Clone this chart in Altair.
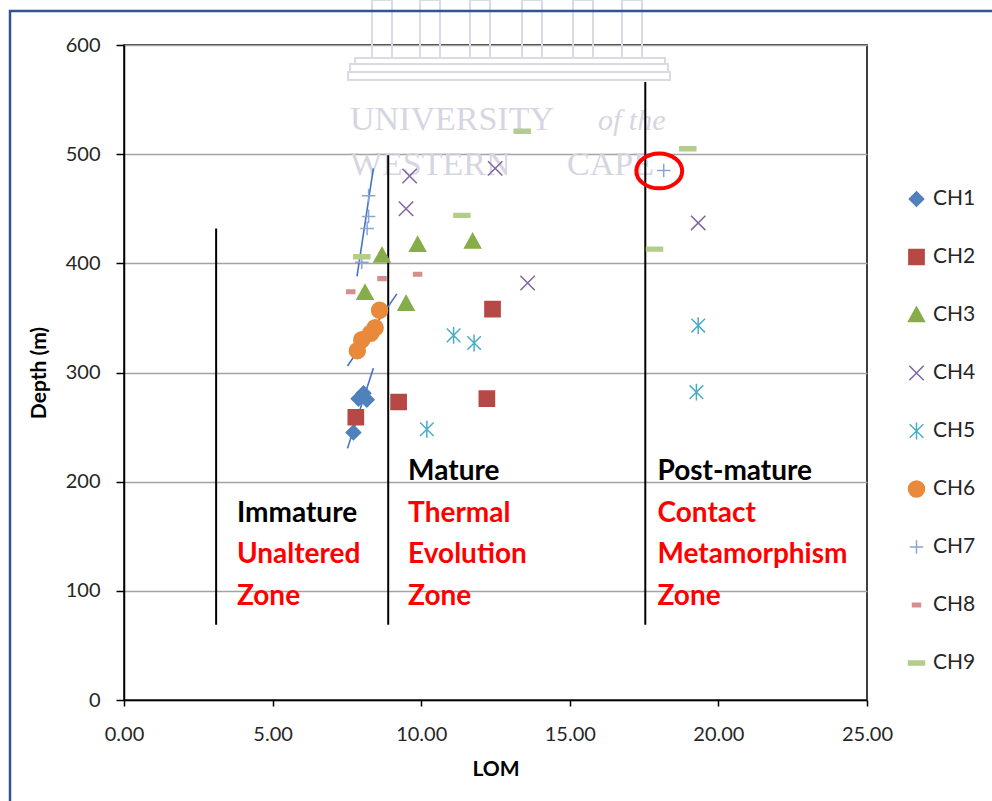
import altair as alt
import pandas as pd

# ---- measured samples: LOM vs depth (m) for each borehole series ----
series_names = ["CH1", "CH2", "CH3", "CH4", "CH5", "CH6", "CH7", "CH8", "CH9"]

ch1_lom = [8.06, 7.89, 8.17, 7.72]
ch1_depth = [281, 276, 275, 245]
ch2_lom = [7.80, 9.24, 12.21, 12.40]
ch2_depth = [259, 273, 276, 358]
ch3_lom = [8.68, 9.88, 11.73, 8.11, 9.49]
ch3_depth = [407, 417, 420, 373, 363]
ch4_lom = [9.61, 12.49, 9.49, 13.58, 19.32]
ch4_depth = [480, 487, 450, 382, 437]
ch5_lom = [11.09, 11.78, 10.19, 19.32, 19.26]
ch5_depth = [334, 327, 248, 343, 282]
ch6_lom = [8.60, 8.45, 8.30, 8.00, 7.85]
ch6_depth = [357, 341, 336, 330, 320]
ch7_lom = [8.23, 8.23, 8.18, 8.00, 18.16]
ch7_depth = [462, 443, 432, 401, 485]
ch8_lom = [8.68, 9.88, 7.63]
ch8_depth = [386, 390, 374]
ch9_lom = [8.00, 11.37, 13.40, 18.97, 17.85]
ch9_depth = [406, 444, 521, 505, 413]

series_colors = ["#4F81BD", "#B64845", "#86AD4A", "#8064A2", "#4BACC6",
                 "#E8893C", "#8AA5D2", "#D68F8D", "#B3CD8A"]

# marker outlines in the unit box [-1, 1]
series_shapes = [
    "M0,-0.9L0.9,0L0,0.9L-0.9,0Z",                       # diamond
    "M-0.95,-0.95L0.95,-0.95L0.95,0.95L-0.95,0.95Z",     # square
    "M0,-1L1,0.8L-1,0.8Z",                               # triangle
    "M-0.9,-0.9L0.9,0.9M-0.9,0.9L0.9,-0.9",              # x
    "M-0.85,-0.85L0.85,0.85M-0.85,0.85L0.85,-0.85M0,-1.05L0,1.05",  # asterisk
    "circle",
    "M-0.85,0L0.85,0M0,-0.85L0,0.85",                    # plus
    "M-0.5,-0.22L0.5,-0.22L0.5,0.22L-0.5,0.22Z",         # short dash
    "M-1,-0.24L1,-0.24L1,0.24L-1,0.24Z",                 # long dash
]

# zone boundaries (LOM) and their vertical extent (depth)
zone_lom = [3.10, 8.89, 17.54]
zone_top = [432, 499, 566]
zone_bottom = [69, 69, 69]

# zone annotations
zone_text = ["Immature", "Unaltered", "Zone",
             "Mature", "Thermal", "Evolution", "Zone",
             "Post-mature", "Contact", "Metamorphism", "Zone"]
zone_text_lom = [3.80, 3.80, 3.80,
                 9.56, 9.56, 9.56, 9.56,
                 17.95, 17.95, 17.95, 17.95]
zone_text_depth = [170.5, 133, 94.5,
                   209, 170.5, 133, 94.5,
                   209, 170.5, 133, 94.5]
zone_text_color = ["black", "red", "red",
                   "black", "red", "red", "red",
                   "black", "red", "red", "red"]

# hand-drawn trend strokes through the clustered samples
trend_id = ["a", "a", "b", "b", "c", "c"]
trend_lom = [8.39, 7.84, 9.18, 7.52, 8.39, 7.52]
trend_depth = [487, 388, 372, 306, 304, 230.5]

# highlighted sample
flag_lom = [18.01]
flag_depth = [484.6]

rows = []
all_lom = [ch1_lom, ch2_lom, ch3_lom, ch4_lom, ch5_lom, ch6_lom, ch7_lom, ch8_lom, ch9_lom]
all_depth = [ch1_depth, ch2_depth, ch3_depth, ch4_depth, ch5_depth, ch6_depth, ch7_depth, ch8_depth, ch9_depth]
for name, lv, dv in zip(series_names, all_lom, all_depth):
    for l, d in zip(lv, dv):
        rows.append({"Series": name, "LOM": l, "Depth": d})
samples = pd.DataFrame(rows)

FONT = "Lato"
W, H = 743, 655

x_scale = alt.Scale(domain=[0, 25], nice=False, zero=False)
y_scale = alt.Scale(domain=[0, 600], nice=False)

x_axis = alt.Axis(values=[0, 5, 10, 15, 20, 25], format=".2f", title="LOM",
                  grid=False, domainColor="black", domainWidth=1.5,
                  tickColor="black", tickSize=6, tickWidth=1.5,
                  labelFont=FONT, labelFontSize=20, labelColor="#262626",
                  labelFlush=False, labelPadding=18,
                  titleFont=FONT, titleFontSize=21,
                  titleFontWeight="bold", titleColor="black", titlePadding=14)
y_axis = alt.Axis(values=[0, 100, 200, 300, 400, 500, 600], title="Depth (m)",
                  grid=True, gridColor="#A3A3A3", gridWidth=1.6,
                  domainColor="black", domainWidth=1.5,
                  tickColor="black", tickSize=8, tickWidth=1.5,
                  labelFont=FONT, labelFontSize=20, labelColor="#262626",
                  labelFlush=False, labelPadding=16,
                  titleFont=FONT, titleFontSize=21,
                  titleFontWeight="bold", titleColor="black", titlePadding=16)

X = alt.X("LOM:Q", scale=x_scale, axis=x_axis)
Y = alt.Y("Depth:Q", scale=y_scale, axis=y_axis)

# faint repository watermark behind the plot
wm_upright = pd.DataFrame({
    "word": ["UNIVERSITY", "WESTERN", "CAPE"],
    "px": [226, 226, 443],
    "py": [85, 130, 130],
})
wm_italic = pd.DataFrame({"word": ["of the"], "px": [474], "py": [85]})
watermark_text = alt.Chart(wm_upright).mark_text(
    font="Liberation Serif", fontSize=34, align="left", baseline="alphabetic",
    color="#D6D6E3",
).encode(x=alt.X("px:Q", scale=None), y=alt.Y("py:Q", scale=None), text="word:N")
watermark_italic = alt.Chart(wm_italic).mark_text(
    font="Liberation Serif", fontSize=30, fontStyle="italic", align="left",
    baseline="alphabetic", color="#D6D6E3",
).encode(x=alt.X("px:Q", scale=None), y=alt.Y("py:Q", scale=None), text="word:N")
wm_shapes = pd.DataFrame({
    "x0": [248, 296, 346, 398, 449, 498, 231, 226, 224],
    "x1": [268, 316, 366, 418, 469, 518, 541, 544, 546],
    "y0": [-45, -45, -45, -45, -45, -45, 13, 19, 27],
    "y1": [13, 13, 13, 13, 13, 13, 19, 27, 35],
})
watermark_logo = alt.Chart(wm_shapes).mark_rect(
    fill="transparent", stroke="#DADAE6", strokeWidth=2,
).encode(
    x=alt.X("x0:Q", scale=None), x2="x1:Q",
    y=alt.Y("y0:Q", scale=None), y2="y1:Q",
)

# outer frame of the figure
frame = alt.Chart(pd.DataFrame({"k": [0]})).mark_rect(
    fill="transparent", stroke="#2F5597", strokeWidth=2.5,
).encode(
    x=alt.value(-114), x2=alt.value(900), y=alt.value(-34), y2=alt.value(800),
)

zones = alt.Chart(pd.DataFrame({"LOM": zone_lom, "top": zone_top, "bottom": zone_bottom})).mark_rule(
    color="black", strokeWidth=2,
).encode(x=alt.X("LOM:Q", scale=x_scale, axis=x_axis),
         y=alt.Y("bottom:Q", scale=y_scale, axis=y_axis), y2="top:Q")

trends = alt.Chart(pd.DataFrame({"id": trend_id, "LOM": trend_lom, "Depth": trend_depth})).mark_line(
    color="#4472C4", strokeWidth=1.6,
).encode(x=X, y=Y, detail="id:N")

legend = alt.Legend(title=None, orient="none", legendX=782, legendY=144,
                    padding=0, labelFont=FONT, labelFontSize=21,
                    labelColor="#262626", labelOffset=6, symbolSize=256,
                    symbolStrokeWidth=1.5, clipHeight=20, rowPadding=37,
                    symbolOpacity=1)

points = alt.Chart(samples).mark_point(
    filled=True, opacity=1, size=256, strokeWidth=1.5,
).encode(
    x=X, y=Y,
    shape=alt.Shape("Series:N", scale=alt.Scale(domain=series_names, range=series_shapes), legend=legend),
    fill=alt.Fill("Series:N", scale=alt.Scale(domain=series_names, range=series_colors), legend=legend),
    stroke=alt.Stroke("Series:N", scale=alt.Scale(domain=series_names, range=series_colors), legend=legend),
)

labels = alt.Chart(pd.DataFrame({
    "text": zone_text, "LOM": zone_text_lom, "Depth": zone_text_depth, "color": zone_text_color,
})).mark_text(
    font=FONT, fontSize=28, fontWeight="bold", align="left", baseline="middle",
).encode(x=X, y=Y, text="text:N", color=alt.Color("color:N", scale=None))

flag = alt.Chart(pd.DataFrame({"LOM": flag_lom, "Depth": flag_depth})).mark_point(
    shape="M-1.45,0A1.45,1.1 0 1,0 1.45,0A1.45,1.1 0 1,0 -1.45,0Z",
    size=1000, filled=False, stroke="#FF0000", strokeWidth=4, opacity=1,
).encode(x=X, y=Y)

chart = alt.layer(
    watermark_logo, watermark_text, watermark_italic, zones, trends, points, labels, flag, frame,
).properties(
    width=W, height=H,
    autosize=alt.AutoSizeParams(type="none"),
    padding={"left": 124, "top": 45, "right": 992 - 124 - W, "bottom": 801 - 45 - H},
    background="white",
).configure_view(
    stroke="black", strokeWidth=1.5,
)

chart.save("out.html", embed_options={"renderer": "svg", "actions": False})
